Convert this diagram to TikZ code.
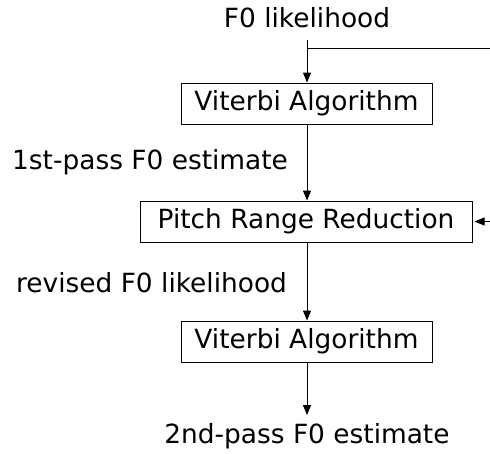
\documentclass[tikz,border=0pt]{standalone}
\usepackage{fontspec}
\setmainfont{DejaVu Sans}
\usetikzlibrary{arrows.meta}
\begin{document}
\begin{tikzpicture}[x=1pt,y=-1pt,
  every node/.style={font=\fontsize{26.4}{30}\selectfont, inner sep=0pt},
  blk/.style={draw, line width=1pt, minimum height=41pt, anchor=center},
  lbl/.style={anchor=center},
  arr/.style={line width=1pt, -{Triangle[length=10pt,width=8pt]}},
  ln/.style={line width=1pt}]
\useasboundingbox (0,0) rectangle (490,453);
\node[lbl] (in) at (307,18) {F0 likelihood};
\coordinate (top) at (307,40);
\coordinate (br) at (307,48);
\coordinate (rt) at (490,48);
\node[blk, minimum width=251pt] (v1) at (306.5,103.5) {Viterbi Algorithm};
\node[lbl, anchor=west] (l1) at (12,162) {1st-pass F0 estimate};
\node[blk, minimum width=332pt] (pr) at (306,221.5) {Pitch Range Reduction};
\coordinate (rin) at (490,221.5);
\node[lbl, anchor=west] (l2) at (16,283) {revised F0 likelihood};
\node[blk, minimum width=251pt] (v2) at (306.5,341.5) {Viterbi Algorithm};
\node[lbl] (out) at (307,436) {2nd-pass F0 estimate};
\coordinate (outtop) at (307,415);
\draw[arr] (top) -- (v1.north -| top);
\draw[ln] (br) -- (rt);
\draw[arr] (v1.south -| top) -- (pr.north -| top);
\draw[arr] (rin) -- ([xshift=2pt]pr.east);
\draw[arr] (pr.south -| top) -- (v2.north -| top);
\draw[arr] (v2.south -| top) -- (outtop);
\end{tikzpicture}
\end{document}
